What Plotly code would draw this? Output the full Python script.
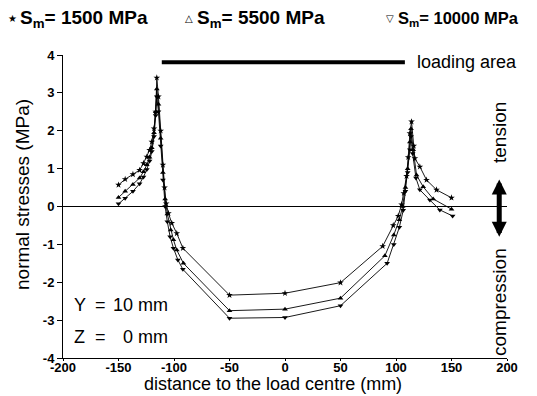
import plotly.graph_objects as go

# ---- data ----
x_1500 = [-150, -144, -137, -131, -127.5, -124.5, -122, -120, -118, -116.5, -115.5, -114, -112, -110, -108.5, -107,
          -105, -102, -97.5, -92, -50, 0, 50, 88, 97.5, 102, 105, 107, 109.5, 111, 112.5, 114, 116, 117, 121.5,
          127.5, 136.5, 150]
y_1500 = [0.57, 0.72, 0.85, 0.96, 1.14, 1.31, 1.49, 1.71, 2.06, 2.5, 3.4, 2.9, 2.0, 1.1, 0.5, 0.08,
          -0.18, -0.44, -0.71, -1.1, -2.34, -2.29, -2.01, -1.05, -0.5, -0.25, 0.05, 0.35, 0.8, 1.3, 1.93, 2.24, 1.6,
          1.27, 1.05, 0.70, 0.44, 0.23]

x_5500 = [-150, -144, -137, -131, -127.5, -124.5, -122, -120, -118, -116.5, -115.5, -114, -112, -110, -108, -106,
          -103, -100.5, -97.5, -91.5, -50, 0, 50, 90, 98, 103, 106, 108.5, 110.5, 112.5, 113.5, 115.5, 118.5,
          124.5, 133.5, 150]
y_5500 = [0.24, 0.40, 0.58, 0.75, 0.92, 1.10, 1.30, 1.55, 1.95, 2.5, 3.1, 2.7, 1.8, 0.9, 0.2, -0.2,
          -0.62, -0.88, -1.15, -1.5, -2.75, -2.71, -2.42, -1.3, -0.75, -0.35, 0.0, 0.5, 1.0, 1.7, 2.05, 1.5, 0.83,
          0.52, 0.20, -0.07]

x_10000 = [-150, -144, -137, -131, -127.5, -124.5, -122, -120, -118, -116.5, -115.5, -114, -112, -110, -108, -106,
           -103.5, -100.5, -96.5, -92, -50, 0, 50, 92, 98, 103, 106.5, 108.5, 110.5, 112.5, 113.5, 115, 118,
           121.5, 130.5, 139.5, 151]
y_10000 = [0.07, 0.22, 0.40, 0.60, 0.78, 0.98, 1.20, 1.45, 1.85, 2.4, 2.9, 2.5, 1.6, 0.7, 0.0, -0.4,
           -0.8, -1.1, -1.41, -1.66, -2.95, -2.93, -2.62, -1.5, -1.0, -0.55, -0.1, 0.4, 0.9, 1.5, 1.85, 1.4, 0.75,
           0.44, 0.17, -0.09, -0.25]

x_ticks = [-200, -150, -100, -50, 0, 50, 100, 150, 200]
y_ticks = [-4, -3, -2, -1, 0, 1, 2, 3, 4]
load_area = [-111, 108]
load_y = 3.81

FONT = "Liberation Sans, Arial, sans-serif"

fig = go.Figure()
for xs, ys, sym in [(x_1500, y_1500, "star"), (x_5500, y_5500, "triangle-up"), (x_10000, y_10000, "triangle-down")]:
    fig.add_trace(go.Scatter(x=xs, y=ys, mode="lines+markers",
                             line=dict(color="black", width=0.9),
                             marker=dict(symbol=sym, size=5, color="black"),
                             showlegend=False, cliponaxis=False))

# zero line
fig.add_shape(type="line", x0=-200, x1=200, y0=0, y1=0, line=dict(color="black", width=1), layer="below")
# loading area bar
fig.add_shape(type="line", x0=load_area[0], x1=load_area[1], y0=load_y, y1=load_y,
              line=dict(color="black", width=4))

# page has an 8px body margin: figure placed at (8, 8) and reaching the window edges
OFF = 8
W, H = 529, 388
PL, PR, PT, PB = 63, 507, 55, 358          # plot area in page pixels
L, T = PL - OFF, PT - OFF
PW, PH = PR - PL, PB - PT
R = W - L - PW
B = H - T - PH

def px(xp):
    return (xp - PL) / PW

def py(yp):
    return (PB - yp) / PH

ann = []
ann.append(dict(x=117, y=load_y, xref="x", yref="y", text="loading area", xanchor="left", yanchor="middle",
                showarrow=False, font=dict(size=18, color="black", family=FONT)))

# legend row: (glyph centre, glyph, text left, text, size)
leg = [(12, "★", 18, "S<sub>m</sub>= 1500 MPa", 19),
       (189, "△", 195, "S<sub>m</sub>= 5500 MPa", 19),
       (390, "▽", 396, "S<sub>m</sub>= 10000 MPa", 16.5)]
for gx, g, tx, t, fs in leg:
    ann.append(dict(x=px(gx), y=py(19), xref="paper", yref="paper", text=g, xanchor="center", yanchor="middle",
                    showarrow=False, font=dict(size=10, color="black", family="DejaVu Sans")))
    ann.append(dict(x=px(tx), y=py(19), xref="paper", yref="paper", text=t, xanchor="left", yanchor="middle",
                    showarrow=False, font=dict(size=fs, color="black", family=FONT, weight="bold")))

# axis titles
ann.append(dict(x=px(22), y=py(195), xref="paper", yref="paper", text="normal stresses (MPa)", textangle=-90,
                showarrow=False, xanchor="center", yanchor="middle",
                font=dict(size=19, color="black", family=FONT)))
ann.append(dict(x=px(273), y=py(384), xref="paper", yref="paper", text="distance to the load centre (mm)",
                showarrow=False, xanchor="center", yanchor="middle",
                font=dict(size=18, color="black", family=FONT)))

# Y / Z labels
for yp, a, b in [(305, "Y", "10 mm"), (337, "Z", "0 mm")]:
    ann.append(dict(x=px(72), y=py(yp), xref="paper", yref="paper", text=a, xanchor="left", yanchor="middle",
                    showarrow=False, font=dict(size=18, color="black", family=FONT)))
    ann.append(dict(x=px(100), y=py(yp), xref="paper", yref="paper", text="=", xanchor="center", yanchor="middle",
                    showarrow=False, font=dict(size=18, color="black", family=FONT)))
    ann.append(dict(x=px(170), y=py(yp), xref="paper", yref="paper", text=b, xanchor="right", yanchor="middle",
                    showarrow=False, font=dict(size=18, color="black", family=FONT)))

# tension / compression
ann.append(dict(x=px(499), y=py(133), xref="paper", yref="paper", text="tension", textangle=-90,
                showarrow=False, xanchor="center", yanchor="middle",
                font=dict(size=19, color="black", family=FONT)))
ann.append(dict(x=px(499), y=py(302), xref="paper", yref="paper", text="compression", textangle=-90,
                showarrow=False, xanchor="center", yanchor="middle",
                font=dict(size=19, color="black", family=FONT)))
ann.append(dict(x=193, y=-0.8, xref="x", yref="y", ax=193, ay=0.75, axref="x", ayref="y", text="",
                showarrow=True, arrowhead=2, startarrowhead=2, arrowside="end+start", arrowwidth=5,
                arrowsize=0.6, startarrowsize=0.6, arrowcolor="black"))

fig.update_layout(
    width=W, height=H, margin=dict(l=L, r=R, t=T, b=B, pad=0),
    paper_bgcolor="white", plot_bgcolor="white",
    font=dict(family=FONT, color="black"),
    annotations=ann,
    xaxis=dict(range=[-200, 200], tickvals=x_ticks, ticktext=[str(v) for v in x_ticks],
               showgrid=False, zeroline=False, showline=True, linecolor="black", linewidth=1,
               ticks="outside", ticklen=2, tickcolor="black", ticklabelstandoff=-5,
               tickfont=dict(size=13, color="black", family=FONT, weight="bold")),
    yaxis=dict(range=[-4, 4], tickvals=y_ticks, ticktext=[str(v) for v in y_ticks],
               showgrid=False, zeroline=False, showline=True, linecolor="black", linewidth=1,
               ticks="outside", ticklen=5, tickcolor="black",
               tickfont=dict(size=13, color="black", family=FONT, weight="bold")),
)

fig.write_html("out.html")
